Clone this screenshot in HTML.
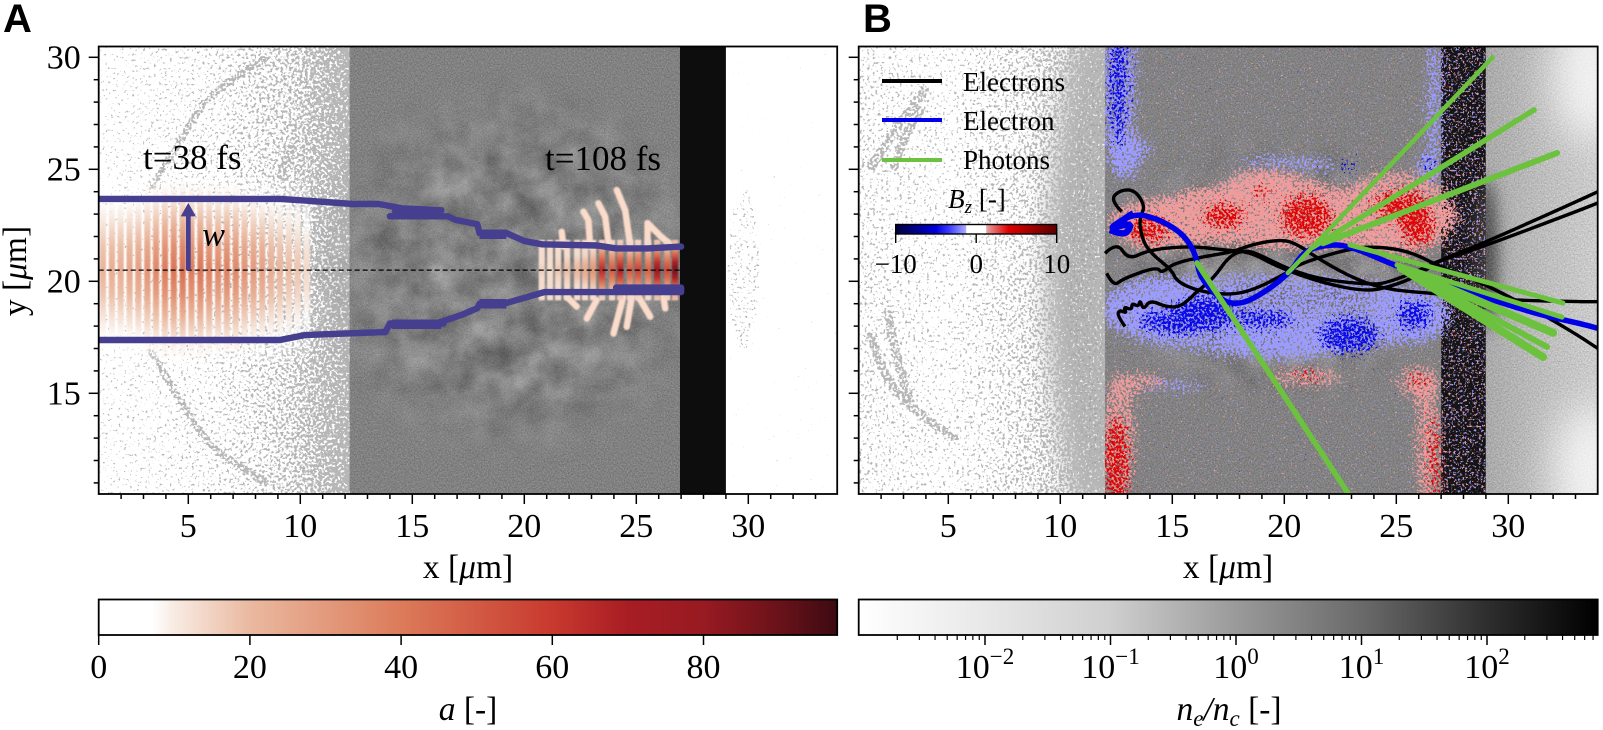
<!DOCTYPE html>
<html lang="en">
<head>
<meta charset="utf-8">
<title>Laser pulse and electron trajectories</title>
<style>
html,body{margin:0;padding:0;background:#fff;width:1603px;height:730px;overflow:hidden}
svg{display:block}
text{font-family:"Liberation Serif",serif;fill:#000}
.panel{font-family:"Liberation Sans",sans-serif;font-weight:bold;font-size:40px}
.tick{font-size:34px}
.title{font-size:33.5px}
.time{font-size:35px}
.sm{font-size:27px}
</style>
</head>
<body>
<svg id="fig" xmlns="http://www.w3.org/2000/svg" width="1603" height="730" viewBox="0 0 1603 730">
<defs id="defs">
  <clipPath id="clipA"><rect x="98.7" y="46.5" width="738.5" height="447.5"/></clipPath>
  <clipPath id="clipB"><rect x="858.7" y="46.5" width="739" height="447.5"/></clipPath>
  <filter id="mottle" filterUnits="userSpaceOnUse" x="0" y="0" width="1603" height="730" color-interpolation-filters="sRGB">
    <feTurbulence type="fractalNoise" baseFrequency="0.035" numOctaves="5" seed="8"/>
    <feColorMatrix type="matrix" values="0.9 0 0 0 0.06  0.9 0 0 0 0.06  0.9 0 0 0 0.06  0 0 0 0 1"/>
    <feComposite in2="SourceAlpha" operator="in"/>
  </filter>
  <filter id="grain" filterUnits="userSpaceOnUse" x="0" y="0" width="1603" height="730" color-interpolation-filters="sRGB">
    <feTurbulence type="fractalNoise" baseFrequency="0.7" numOctaves="2" seed="21"/>
    <feColorMatrix type="matrix" values="1.4 0 0 0 -0.2  1.4 0 0 0 -0.2  1.4 0 0 0 -0.2  0 0 0 0 1"/>
    <feComposite in2="SourceAlpha" operator="in"/>
  </filter>
  <filter id="soft8" x="-80%" y="-30%" width="260%" height="160%"><feGaussianBlur stdDeviation="8"/></filter>
  <filter id="soft14" x="-40%" y="-30%" width="180%" height="160%"><feGaussianBlur stdDeviation="13"/></filter>
  <filter id="soft24" x="-100%" y="-100%" width="300%" height="300%"><feGaussianBlur stdDeviation="20"/></filter>
  <filter id="soft1" x="-20%" y="-5%" width="140%" height="110%"><feGaussianBlur stdDeviation="0.9"/></filter>
  <linearGradient id="cbar-a" x1="0" x2="1" y1="0" y2="0"></linearGradient>
  <linearGradient id="cbar-ne" x1="0" x2="1" y1="0" y2="0"></linearGradient>
  <linearGradient id="cbar-bz" x1="0" x2="1" y1="0" y2="0"></linearGradient>
  <linearGradient id="densA" x1="0" x2="1" y1="0" y2="0">
    <stop offset="0" stop-color="#fff" stop-opacity="0.26"/>
    <stop offset="0.45" stop-color="#fff" stop-opacity="0.38"/>
    <stop offset="0.75" stop-color="#fff" stop-opacity="0.62"/>
    <stop offset="1" stop-color="#fff" stop-opacity="1"/>
  </linearGradient>
  <linearGradient id="densB" x1="0" x2="1" y1="0" y2="0">
    <stop offset="0" stop-color="#fff" stop-opacity="0.44"/>
    <stop offset="0.36" stop-color="#fff" stop-opacity="0.34"/>
    <stop offset="0.68" stop-color="#fff" stop-opacity="0.56"/>
    <stop offset="0.85" stop-color="#fff" stop-opacity="0.78"/>
    <stop offset="1" stop-color="#fff" stop-opacity="1"/>
  </linearGradient>
  <linearGradient id="rightB" x1="0" x2="1" y1="0" y2="0">
    <stop offset="0" stop-color="#b6b6b6"/>
    <stop offset="0.45" stop-color="#cccccc"/>
    <stop offset="1" stop-color="#e2e2e2"/>
  </linearGradient>
  <radialGradient id="mottleFade"><stop offset="0.55" stop-color="#fff" stop-opacity="1"/><stop offset="1" stop-color="#fff" stop-opacity="0"/></radialGradient>
</defs>
<g id="panelA" clip-path="url(#clipA)"></g>
<g id="panelB" clip-path="url(#clipB)"></g>
<g id="axes"></g>
<text class="panel" x="3" y="32">A</text>
<text class="panel" x="863" y="32">B</text>
<text class="time" x="143" y="169">t=38 fs</text>
<text class="time" x="545" y="170">t=108 fs</text>
<text class="title" transform="translate(26 271) rotate(-90)" text-anchor="middle">y [<tspan font-style="italic">μ</tspan>m]</text>
<text class="title" x="468" y="578" text-anchor="middle">x [<tspan font-style="italic">μ</tspan>m]</text>
<text class="title" x="1228" y="578" text-anchor="middle">x [<tspan font-style="italic">μ</tspan>m]</text>
<text class="title" x="468" y="720" text-anchor="middle"><tspan font-style="italic">a</tspan> [-]</text>
<text class="title" x="1229" y="720" text-anchor="middle"><tspan font-style="italic">n</tspan><tspan font-style="italic" font-size="23" dy="6">e</tspan><tspan dy="-6" font-style="italic">/n</tspan><tspan font-style="italic" font-size="23" dy="6">c</tspan><tspan dy="-6"> [-]</tspan></text>
<g id="legend">
  <line x1="882" x2="942" y1="81" y2="81" stroke="#000" stroke-width="4"/>
  <text class="sm" x="963" y="91">Electrons</text>
  <line x1="882" x2="942" y1="120" y2="120" stroke="#0000e6" stroke-width="4"/>
  <text class="sm" x="963" y="130">Electron</text>
  <line x1="882" x2="942" y1="160" y2="160" stroke="#6cc23e" stroke-width="4"/>
  <text class="sm" x="963" y="169">Photons</text>
</g>
<text class="sm" x="977" y="208" text-anchor="middle"><tspan font-style="italic">B</tspan><tspan font-style="italic" font-size="19" dy="5">z</tspan><tspan dy="-5"> [-]</tspan></text>
<script>
// ---------- axis tick data ----------
const xTicks = [5, 10, 15, 20, 25, 30];
const yTicks = [15, 20, 25, 30];
const aTicks = [0, 20, 40, 60, 80];
const neExponents = [-2, -1, 0, 1, 2];
const bzTicks = [-10, 0, 10];

// ---------- colormap stops (value, colour) ----------
const aStopValues = [0, 7, 10, 20, 40, 60, 70, 80, 90, 97.7];
const aStopColors = ['#ffffff', '#ffffff', '#f8ebe2', '#eab9a0', '#dc7b5a', '#c8392e', '#a81d24', '#981a22', '#6a1219', '#3d0a12'];
const neStopExps = [-3, -2, -1, 0, 1, 2, 2.88];
const neStopColors = ['#ffffff', '#e8e8e8', '#cfcfcf', '#9a9a9a', '#6a6a6a', '#2e2e2e', '#000000'];
const bzStopValues = [-10, -5, -3.4, -1.3, -1.2, 1.2, 1.3, 4, 7, 10];
const bzStopColors = ['#00003c', '#0000e0', '#3a3aff', '#aaaaff', '#ffffff', '#ffffff', '#e8a0a0', '#e00000', '#a00000', '#5a0000'];

// ---------- panel A: laser pulse at t=38 fs ----------
const pulse38X = [1.19, 1.59, 1.98, 2.38, 2.77, 3.17, 3.56, 3.96, 4.35, 4.75, 5.14, 5.54, 5.93, 6.33, 6.72, 7.12, 7.51, 7.91, 8.3, 8.7, 9.09, 9.49, 9.88, 10.28];
const pulse38Amp = [22, 24, 24, 26, 28, 32, 36, 40, 42, 44, 40, 42, 38, 36, 38, 36, 32, 30, 28, 24, 22, 20, 18, 14];
// ---------- panel A: laser pulse at t=108 fs ----------
const pulse108X = [20.78, 21.15, 21.51, 21.91, 22.36, 22.71, 23.07, 23.47, 23.92, 24.28, 24.72, 25.08, 25.53, 25.93, 26.38, 26.73];
const pulse108Amp = [16, 12, 18, 20, 22, 26, 32, 66, 50, 70, 50, 58, 48, 80, 56, 88];
const pulse108Tails = [
  [[21.75, 21.54], [21.67, 22.21]],
  [[22.94, 21.54], [22.86, 22.73], [22.64, 23.11]],
  [[23.76, 21.69], [23.61, 22.88], [23.31, 23.48]],
  [[24.72, 21.69], [24.5, 23.18], [24.13, 24.07]],
  [[25.5, 21.6], [25.5, 22.6], [26.1, 22.0], [26.7, 21.5]],
  [[21.9, 19.31], [22.34, 18.87]],
  [[23.23, 19.16], [22.79, 18.34]],
  [[24.42, 19.31], [23.98, 17.67]],
  [[24.8, 19.31], [24.57, 17.97]],
  [[25.1, 19.31], [25.62, 18.42]],
  [[26.21, 19.31], [26.29, 18.79]]
];
const beamUpperX = [1, 9.09, 10.3, 12.35, 13.5, 14.6, 14.7, 16.3, 15.8, 14.0, 16.6, 16.9, 17.9, 18, 19.2, 20.0, 20.8, 23.25, 24.1, 25.5, 27];
const beamUpperY = [23.68, 23.68, 23.6, 23.45, 23.45, 23.25, 23.25, 23.17, 23.17, 22.9, 22.9, 22.75, 22.55, 22.15, 22.15, 21.8, 21.65, 21.6, 21.47, 21.47, 21.55];
const beamLowerX = [1, 9.09, 10.2, 12.6, 13.8, 14.0, 16.4, 15.8, 14.1, 16.0, 17.2, 17.9, 18.0, 19.2, 20.9, 24.1, 27, 27, 24.1];
const beamLowerY = [17.38, 17.38, 17.6, 17.69, 17.73, 18.12, 18.12, 18.05, 18.05, 18.1, 18.5, 18.8, 19.0, 19.03, 19.52, 19.52, 19.52, 19.72, 19.72];
const beamBlockStartX = [14.1, 18.0, 24.2, 18.0, 14.1];
const beamBlockEndX = [16.3, 19.2, 26.9, 19.2, 16.3];
const beamBlockY = [18.08, 19.0, 19.6, 22.1, 23.02];

// ---------- panel B: trajectories (x, y in µm) ----------
const electronA = [[12.74, 23.11], [12.22, 23.63], [12.67, 24.08], [13.34, 24.08], [13.79, 23.33], [13.56, 22.89], [13.56, 22.29], [13.86, 21.4], [14.98, 20.51], [15.2, 19.98], [16.24, 19.54], [17.58, 19.39], [18.62, 19.61], [20.11, 20.36], [20.7, 20.8], [22.94, 21.47], [24.13, 21.55], [25.6, 21.34], [26.95, 20.65], [28.89, 19.91], [31.72, 18.42], [33.2, 17.53], [34, 17]];
const electronB = [[12.0, 21.25], [12.52, 21.77], [13.04, 20.95], [13.93, 21.4], [15.79, 21.58], [17.28, 21.4], [18.47, 21.32], [19.66, 20.65], [21.75, 19.91], [23.68, 19.54], [24.72, 19.76], [25.91, 20.21], [26.95, 20.95], [28.89, 21.7], [33.2, 23.63], [34, 24]];
const electronC = [[12.07, 20.36], [12.37, 19.76], [12.82, 20.13], [14.31, 20.65], [14.53, 20.36], [15.05, 20.8], [16.39, 21.1], [17.73, 21.32], [18.47, 21.62], [19.66, 21.85], [20.41, 21.77], [21.6, 20.95], [23.23, 20.06], [24.72, 19.61], [26.66, 19.46], [29.6, 19.17], [33.2, 19.09], [34, 19.09]];
const electronD = [[12.89, 17.98], [12.52, 18.5], [12.67, 18.72], [12.97, 18.57], [12.82, 18.87], [13.19, 18.72], [13.19, 19.02], [13.49, 18.87], [13.56, 19.17], [13.71, 18.72], [14.01, 19.17], [14.75, 18.84], [15.42, 18.87], [16.09, 19.54], [16.84, 20.13], [17.58, 21.18], [18.32, 21.4], [19.07, 21.1], [20.26, 20.51], [21.75, 20.06], [23.98, 19.84], [24.72, 19.98], [26.06, 20.5], [26.95, 20.95], [28.89, 21.55], [33.2, 23.18], [34, 23.5]];
const electronHighlight = [[12.22, 22.29], [12.6, 22.14], [12.97, 22.14], [13.19, 22.59], [12.52, 22.44], [12.22, 22.37], [13.26, 23.04], [14.31, 22.81], [15.35, 22.22], [15.87, 21.55], [16.09, 20.95], [16.24, 20.21], [16.91, 19.39], [17.65, 18.94], [18.62, 19.17], [20.26, 20.36], [20.85, 21.32], [21.75, 21.62], [22.86, 21.62], [25.02, 20.66], [27.55, 19.76], [31.12, 18.57], [33.2, 18.12], [34, 17.9]];
const photonStartX = [20.16, 21.28, 21.73, 22.93, 25.03, 25.2, 25.2, 25.2, 16.1];
const photonStartY = [20.37, 21.53, 21.7, 21.62, 20.73, 20.6, 20.6, 20.6, 20.82];
const photonEndX = [29.3, 31.15, 32.18, 32.44, 32.4, 32.0, 31.73, 31.55, 22.84];
const photonEndY = [30.0, 27.65, 25.73, 19.03, 18.4, 17.7, 17.07, 16.62, 10.55];
const photonWidths = [4.5, 5.5, 6, 5, 5, 8, 6, 8, 5.5];

// ---------- field texture regions (x, y, rx, ry in µm) ----------
const ringsA = [[[8.51, 30], [6.1, 28.54], [5.08, 27.07], [4.5, 26], [3.29, 24.07]], [[9.67, 26.17], [9.09, 24.52]], [[3.29, 16.94], [5.08, 13.94], [6.1, 12.47], [8.51, 11]]];
const ringsB = [[[1.5, 17.69], [2.08, 15.72], [3.6, 14.12], [5.39, 12.92]], [[2.26, 18.72], [2.53, 17.25], [3.29, 14.57]], [[1.5, 24.97], [2.4, 26.44], [4.05, 28.67]], [[2.53, 24.97], [2.98, 26.44], [3.87, 27.78]]];
const bowB = [[10.8, 30.6], [10.0, 26], [9.6, 22], [9.6, 18], [10.0, 14.5], [10.7, 10.4], [13, 10.4], [13, 30.6]];
const pinkBlobs = [[20, 22.8, 8, 1.5], [14.5, 22.5, 2.4, 1.3], [17, 23.2, 2.4, 1.2], [20, 23.2, 3, 1.7], [25, 23, 2.8, 2.1], [19, 24.3, 1.8, 0.9], [12.6, 13, 0.9, 3], [26.4, 12.5, 0.7, 3.2], [26, 15.5, 1.1, 0.9], [21, 15.7, 1.9, 0.5], [13.5, 15.5, 1.4, 0.5]];
const redBlobs = [[13.9, 22.3, 1.1, 0.7], [17.3, 22.9, 1.1, 0.7], [21, 22.9, 1.3, 1.1], [25.2, 23.4, 1.4, 0.8], [26, 22.3, 0.9, 0.9], [19, 24, 0.5, 0.4], [12.5, 11.8, 0.7, 2.4], [26.7, 12, 0.35, 2.4], [26, 15.5, 0.6, 0.4], [21, 15.8, 1.0, 0.28]];
const paleBlueBlobs = [[19.5, 18.5, 7.8, 2.0], [14.5, 19, 2.7, 1.4], [20, 17.5, 3, 1.1], [25.8, 18.5, 1.8, 1.4], [12.6, 29, 0.95, 4.5], [13, 25.5, 0.8, 1.1], [26.7, 28, 0.5, 4], [26.3, 25, 0.6, 0.8], [21.5, 25.2, 1.1, 0.4], [19.5, 25.3, 1.8, 0.4], [15, 15.4, 1.7, 0.35], [13.5, 26, 1, 0.4]];
const blueBlobs = [[22.9, 17.6, 1.5, 0.95], [25.8, 18.5, 0.9, 0.8], [15.5, 18.2, 2.2, 0.7], [16.5, 19, 1.4, 0.5], [22.9, 25.1, 0.6, 0.3], [12.6, 29, 0.5, 3.4], [26.5, 25.2, 0.35, 0.5], [19, 18.3, 1.7, 0.5]];
const rearGlowX = [33.6, 33.6];
const rearGlowY = [29.2, 11.5];

// ---------- scales ----------
const Y_TOP = 46.5, Y_BOTTOM = 494, PX_PER_UM = 22.4;
const xA = v => 98.7 + (v - 1) * PX_PER_UM;
const xB = v => 858.7 + (v - 1) * PX_PER_UM;
const yP = v => 57.3 + (30 - v) * PX_PER_UM;
const cbA = v => 98.7 + v * 7.56;
const cbNe = e => 1236 + e * 125.5;
const cbBz = v => 976.2 + v * 8.05;

const NS = 'http://www.w3.org/2000/svg';
function mk(parent, tag, attrs, txt) {
  const el = document.createElementNS(NS, tag);
  for (const k in attrs) el.setAttribute(k, attrs[k]);
  if (txt !== undefined) el.textContent = txt;
  parent.appendChild(el);
  return el;
}
function smoothPath(pts, sx) {
  let d = 'M' + sx(pts[0][0]).toFixed(1) + ' ' + yP(pts[0][1]).toFixed(1);
  for (let i = 1; i < pts.length - 1; i++) {
    const x = sx(pts[i][0]), y = yP(pts[i][1]), nx = sx(pts[i + 1][0]), ny = yP(pts[i + 1][1]);
    d += ' Q' + x.toFixed(1) + ' ' + y.toFixed(1) + ' ' + ((x + nx) / 2).toFixed(1) + ' ' + ((y + ny) / 2).toFixed(1);
  }
  const l = pts[pts.length - 1];
  return d + ' L' + sx(l[0]).toFixed(1) + ' ' + yP(l[1]).toFixed(1);
}
function polyPath(pts, sx) {
  return pts.map((p, i) => (i ? 'L' : 'M') + sx(p[0]).toFixed(1) + ' ' + yP(p[1]).toFixed(1)).join(' ');
}
function hexRgb(h) { return [1, 3, 5].map(i => parseInt(h.substr(i, 2), 16)); }
function aColor(v) {
  if (v <= aStopValues[0]) return aStopColors[0];
  for (let i = 1; i < aStopValues.length; i++) {
    if (v <= aStopValues[i]) {
      const t = (v - aStopValues[i - 1]) / (aStopValues[i] - aStopValues[i - 1]);
      const a = hexRgb(aStopColors[i - 1]), b = hexRgb(aStopColors[i]);
      return 'rgb(' + a.map((c, j) => Math.round(c + (b[j] - c) * t)).join(',') + ')';
    }
  }
  return aStopColors[aStopColors.length - 1];
}
const defs = document.getElementById('defs');
const panelA = document.getElementById('panelA');
const panelB = document.getElementById('panelB');
const axes = document.getElementById('axes');

// ---------- colorbar gradients ----------
aStopValues.forEach((v, i) => mk(document.getElementById('cbar-a'), 'stop', { offset: v / 97.7, 'stop-color': aStopColors[i] }));
neStopExps.forEach((v, i) => mk(document.getElementById('cbar-ne'), 'stop', { offset: (v + 3) / 5.88, 'stop-color': neStopColors[i] }));
bzStopValues.forEach((v, i) => mk(document.getElementById('cbar-bz'), 'stop', { offset: (v + 10) / 20, 'stop-color': bzStopColors[i] }));

// ---------- stipple filters: speckle density follows the source alpha ----------
function stipple(id, color, blur, seed, freq) {
  const f = mk(defs, 'filter', { id: id, filterUnits: 'userSpaceOnUse', x: 0, y: 0, width: 1603, height: 730, 'color-interpolation-filters': 'sRGB' });
  mk(f, 'feGaussianBlur', { in: 'SourceAlpha', stdDeviation: blur, result: 'd' });
  mk(f, 'feTurbulence', { type: 'fractalNoise', baseFrequency: freq, numOctaves: 2, seed: seed, result: 't' });
  mk(f, 'feColorMatrix', { in: 't', type: 'matrix', values: '0 0 0 0 0 0 0 0 0 0 0 0 0 0 0 1 0 0 0 0', result: 'na' });
  mk(f, 'feComposite', { in: 'd', in2: 'na', operator: 'arithmetic', k1: 0, k2: 0.5, k3: 1, k4: 0, result: 'sum' });
  const ct = mk(f, 'feComponentTransfer', { in: 'sum', result: 'thr' });
  mk(ct, 'feFuncA', { type: 'linear', slope: 10, intercept: -8.0 });
  mk(f, 'feFlood', { 'flood-color': color, result: 'fl' });
  mk(f, 'feComposite', { in: 'fl', in2: 'thr', operator: 'in' });
}
stipple('st-grey', '#b6b6b6', 0.6, 5, 0.37);
stipple('st-grey2', '#b6b6b6', 0.6, 13, 0.37);
stipple('st-white', '#eeeeee', 0.6, 19, 0.41);
stipple('st-pink', '#ee9c9c', 7, 31, 0.41);
stipple('st-red', '#dc0606', 7, 37, 0.41);
stipple('st-pale', '#9c9cff', 7, 41, 0.41);
stipple('st-blue', '#0a0ae6', 7, 43, 0.41);
stipple('st-pink2', '#ee9c9c', 0.1, 47, 0.43);
stipple('st-pale2', '#9c9cff', 0.1, 53, 0.43);

// ---------- panel A field ----------
const rH = Y_BOTTOM - Y_TOP;
const stA = mk(panelA, 'g', { filter: 'url(#st-grey)' });


mk(stA, 'rect', { x: xA(1), y: Y_TOP, width: xA(12.3) - xA(1), height: rH, fill: 'url(#densA)' });
ringsA.forEach(r => mk(stA, 'path', { d: smoothPath(r, xA), fill: 'none', stroke: '#fff', 'stroke-width': 7, 'stroke-opacity': 0.62 }));
mk(stA, 'ellipse', { cx: xA(29.8), cy: yP(20.5), rx: 0.7 * PX_PER_UM, ry: 3.6 * PX_PER_UM, fill: '#fff', 'fill-opacity': 0.35 });

const grayA = mk(panelA, 'rect', { x: xA(12.2), y: Y_TOP, width: xA(27) - xA(12.2), height: rH, fill: '#828282' });


const grA = mk(panelA, 'rect', { x: xA(12.2), y: Y_TOP, width: xA(27) - xA(12.2), height: rH, filter: 'url(#grain)', opacity: 0.2 });


const moA = mk(panelA, 'ellipse', { cx: xA(19.5), cy: yP(20.5), rx: 9.4 * PX_PER_UM, ry: 9 * PX_PER_UM, fill: 'url(#mottleFade)', filter: 'url(#mottle)', opacity: 0.38 });


const blA = mk(panelA, 'rect', { x: xA(26.95), y: Y_TOP, width: xA(29) - xA(26.95), height: rH, fill: '#0d0d0d' });



// ---------- laser stripes ----------
function stripes(xs, amps, halfUm, profile, floor, name) {
  const g = mk(panelA, 'g', { filter: 'url(#soft1)' });
  
  
  xs.forEach((x, i) => {
    const id = name + '-g' + i;
    const gr = mk(defs, 'linearGradient', { id: id, x1: 0, x2: 0, y1: 0, y2: 1 });
    profile.forEach((f, j) => {
      const v = Math.max(amps[i] * f, floor);
      mk(gr, 'stop', { offset: j / (profile.length - 1), 'stop-color': aColor(v), 'stop-opacity': Math.min(1, v / 9).toFixed(2) });
    });
    const s = mk(g, 'rect', { x: xA(x) - 3.1, y: yP(20.5 + halfUm), width: 6.2, height: 2 * halfUm * PX_PER_UM, fill: 'url(#' + id + ')' });
    
    
  });
}
stripes(pulse38X, pulse38Amp, 4.2, [0, 0.26, 0.5, 0.8, 1, 0.8, 0.5, 0.26, 0], 0, 'laser-pulse-38fs');
const tails = mk(panelA, 'g', { filter: 'url(#soft1)' });


pulse108Tails.forEach(t => {
  const p = mk(tails, 'path', { d: polyPath(t, xA), fill: 'none', stroke: '#fbdccb', 'stroke-width': 6.5, 'stroke-linecap': 'round', 'stroke-linejoin': 'round' });
  
  
});
stripes(pulse108X, pulse108Amp, 1.35, [0.2, 0.3, 0.55, 0.8, 1, 0.8, 0.55, 0.3, 0.2], 13, 'laser-pulse-108fs');

// ---------- beam envelope ----------
const toPts = (xs, ys) => xs.map((x, i) => [x, ys[i]]);
const bu = mk(panelA, 'path', { d: polyPath(toPts(beamUpperX, beamUpperY), xA), fill: 'none', stroke: '#463f8f', 'stroke-width': 6.4, 'stroke-linejoin': 'round', 'stroke-linecap': 'round' });


const bl = mk(panelA, 'path', { d: polyPath(toPts(beamLowerX, beamLowerY), xA), fill: 'none', stroke: '#463f8f', 'stroke-width': 6.4, 'stroke-linejoin': 'round', 'stroke-linecap': 'round' });


beamBlockStartX.forEach((x, i) => {
  const b = mk(panelA, 'line', { x1: xA(x), x2: xA(beamBlockEndX[i]), y1: yP(beamBlockY[i]), y2: yP(beamBlockY[i]), stroke: '#463f8f', 'stroke-width': 9.5 });
  
  
});
const axisLine = mk(panelA, 'line', { x1: xA(1), x2: xA(27), y1: yP(20.5), y2: yP(20.5), stroke: '#000', 'stroke-width': 1.3, 'stroke-dasharray': '5 3' });


const arrow = mk(panelA, 'path', { d: 'M' + (xA(5) - 2.4) + ' ' + yP(20.5) + ' V' + yP(22.9) + ' H' + (xA(5) - 7.6) + ' L' + xA(5) + ' ' + yP(23.5) + ' L' + (xA(5) + 7.6) + ' ' + yP(22.9) + ' H' + (xA(5) + 2.4) + ' V' + yP(20.5) + ' Z', fill: '#463f8f' });


const wLabel = mk(panelA, 'text', { x: xA(5) + 14, y: yP(21.6), 'font-style': 'italic', 'font-size': 34 }, 'w');



// ---------- panel B field ----------
const bow = mk(panelB, 'path', { d: polyPath(bowB, xB) + ' Z', fill: '#a4a4a4', filter: 'url(#soft14)' });


const stB = mk(panelB, 'g', { filter: 'url(#st-grey2)' });


mk(stB, 'rect', { x: xB(1), y: Y_TOP, width: xB(12) - xB(1), height: rH, fill: 'url(#densB)' });
ringsB.forEach(r => mk(stB, 'path', { d: smoothPath(r, xB), fill: 'none', stroke: '#fff', 'stroke-width': 9, 'stroke-opacity': 0.62 }));
const wsB = mk(panelB, 'g', { filter: 'url(#st-white)' });


mk(wsB, 'rect', { x: xB(9.4), y: Y_TOP, width: xB(12) - xB(9.4), height: rH, fill: '#fff', 'fill-opacity': 0.36 });
const grayB = mk(panelB, 'rect', { x: xB(12), y: Y_TOP, width: xB(27) - xB(12), height: rH, fill: '#828282' });


const moB = mk(panelB, 'ellipse', { cx: xB(19.5), cy: yP(20.5), rx: 8 * PX_PER_UM, ry: 6.4 * PX_PER_UM, fill: 'url(#mottleFade)', filter: 'url(#mottle)', opacity: 0.45 });


const blB = mk(panelB, 'rect', { x: xB(27), y: Y_TOP, width: xB(29) - xB(27), height: rH, fill: '#141414' });


const rtB = mk(panelB, 'rect', { x: xB(29), y: Y_TOP, width: xB(34) - xB(29), height: rH, fill: 'url(#rightB)' });


const rtDark = mk(panelB, 'ellipse', { cx: xB(29), cy: yP(21.2), rx: 0.5 * PX_PER_UM, ry: 3.4 * PX_PER_UM, fill: '#3a3a3a', filter: 'url(#soft8)' });


const rtGrain = mk(panelB, 'rect', { x: xB(29), y: Y_TOP, width: xB(34) - xB(29), height: rH, filter: 'url(#grain)', opacity: 0.22 });


rearGlowX.forEach((x, i) => {
  const g = mk(panelB, 'ellipse', { cx: xB(x), cy: yP(rearGlowY[i]), rx: 1.6 * PX_PER_UM, ry: 3 * PX_PER_UM, fill: '#fff', 'fill-opacity': 0.75, filter: 'url(#soft24)' });
  
  
});
const grB = mk(panelB, 'rect', { x: xB(12), y: Y_TOP, width: xB(27) - xB(12), height: rH, filter: 'url(#grain)', opacity: 0.2 });



// ---------- Bz speckle overlays ----------
mk(defs, 'clipPath', { id: 'clipBz' }).appendChild(mk(defs, 'rect', { x: xB(12), y: Y_TOP, width: xB(29) - xB(12) + 1, height: rH }));
function bzLayer(filterId, list, op, name) {
  const wrap = mk(panelB, 'g', { 'clip-path': 'url(#clipBz)' });
  
  
  const g = mk(wrap, 'g', { filter: 'url(#' + filterId + ')' });
  list.forEach(b => mk(g, 'ellipse', { cx: xB(b[0]), cy: yP(b[1]), rx: b[2] * PX_PER_UM, ry: b[3] * PX_PER_UM, fill: '#fff', 'fill-opacity': op }));
}
const sparse = mk(panelB, 'g', { 'clip-path': 'url(#clipBz)' });


const sp1 = mk(sparse, 'g', { filter: 'url(#st-pink2)' });
mk(sp1, 'rect', { x: xB(12), y: Y_TOP, width: xB(27) - xB(12), height: rH, fill: '#fff', 'fill-opacity': 0.2 });
mk(sp1, 'rect', { x: xB(27), y: Y_TOP, width: xB(29) - xB(27), height: rH, fill: '#fff', 'fill-opacity': 0.38 });
const sp2 = mk(sparse, 'g', { filter: 'url(#st-pale2)' });
mk(sp2, 'rect', { x: xB(12), y: Y_TOP, width: xB(27) - xB(12), height: rH, fill: '#fff', 'fill-opacity': 0.18 });
mk(sp2, 'rect', { x: xB(27), y: Y_TOP, width: xB(29) - xB(27), height: rH, fill: '#fff', 'fill-opacity': 0.38 });
bzLayer('st-pale', paleBlueBlobs, 0.78, 'bz-negative-speckle');
bzLayer('st-pink', pinkBlobs, 0.78, 'bz-positive-speckle');
bzLayer('st-blue', blueBlobs, 0.8, 'bz-negative-strong');
bzLayer('st-red', redBlobs, 0.8, 'bz-positive-strong');

// ---------- trajectories ----------
[electronA, electronB, electronC, electronD].forEach(tr => {
  const p = mk(panelB, 'path', { d: smoothPath(tr, xB), fill: 'none', stroke: '#000', 'stroke-width': 3.4, 'stroke-linejoin': 'round' });
  
  
});
const hi = mk(panelB, 'path', { d: smoothPath(electronHighlight, xB), fill: 'none', stroke: '#0000e6', 'stroke-width': 5.5, 'stroke-linejoin': 'round' });


const hiStart = mk(panelB, 'path', { d: smoothPath(electronHighlight.slice(0, 7), xB), fill: 'none', stroke: '#0000e6', 'stroke-width': 6.5, 'stroke-linejoin': 'round' });


photonStartX.forEach((x, i) => {
  const p = mk(panelB, 'line', { x1: xB(x), y1: yP(photonStartY[i]), x2: xB(photonEndX[i]), y2: yP(photonEndY[i]), stroke: '#6cc23e', 'stroke-width': photonWidths[i], 'stroke-linecap': 'round' });
  
  
});

// ---------- axes ----------
function axisFrame(sx, left, right, withLabels, name) {
  const g = mk(axes, 'g', {});
  
  
  mk(g, 'rect', { x: left, y: Y_TOP, width: right - left, height: rH, fill: 'none', stroke: '#000', 'stroke-width': 1.8 });
  for (let v = 2; v <= 33; v++) {
    const major = xTicks.includes(v);
    const t = mk(g, 'line', { x1: sx(v), x2: sx(v), y1: Y_BOTTOM, y2: Y_BOTTOM + (major ? 10 : 5), stroke: '#000', 'stroke-width': 1.5 });
    
    
  }
  for (let v = 11; v <= 30; v++) {
    const major = yTicks.includes(v);
    const t = mk(g, 'line', { x1: left, x2: left - (major ? 10 : 5), y1: yP(v), y2: yP(v), stroke: '#000', 'stroke-width': 1.5 });
    
    
  }
  xTicks.forEach(v => {
    const t = mk(g, 'text', { class: 'tick', x: sx(v), y: 537, 'text-anchor': 'middle' }, v);
    
    
  });
  if (withLabels) yTicks.forEach(v => {
    const t = mk(g, 'text', { class: 'tick', x: left - 18, y: yP(v) + 11, 'text-anchor': 'end' }, v);
    
    
  });
}
axisFrame(xA, 98.7, 837.2, true, 'panel-a-axes');
axisFrame(xB, 858.7, 1597.7, false, 'panel-b-axes');

// ---------- colorbar a ----------
const cbGa = mk(axes, 'g', {});


mk(cbGa, 'rect', { x: 98.7, y: 599.5, width: 738.5, height: 35.5, fill: 'url(#cbar-a)', stroke: '#000', 'stroke-width': 1.8 });
aTicks.forEach(v => {
  const t = mk(cbGa, 'line', { x1: cbA(v), x2: cbA(v), y1: 635, y2: 645, stroke: '#000', 'stroke-width': 1.5 });
  
  
  const l = mk(cbGa, 'text', { class: 'tick', x: cbA(v), y: 678, 'text-anchor': 'middle' }, v);
  
  
});

// ---------- colorbar density ----------
const cbGn = mk(axes, 'g', {});


mk(cbGn, 'rect', { x: 858.7, y: 599.5, width: 739, height: 35.5, fill: 'url(#cbar-ne)', stroke: '#000', 'stroke-width': 1.8 });
for (let e = -3; e <= 2; e++) {
  for (let m = 2; m <= 9; m++) {
    const p = cbNe(e + Math.log10(m));
    if (p < 1597.7) {
      const t = mk(cbGn, 'line', { x1: p, x2: p, y1: 635, y2: 640, stroke: '#000', 'stroke-width': 1.2 });
      
      
    }
  }
}
neExponents.forEach(e => {
  const t = mk(cbGn, 'line', { x1: cbNe(e), x2: cbNe(e), y1: 635, y2: 645, stroke: '#000', 'stroke-width': 1.5 });
  
  
  const l = mk(cbGn, 'text', { class: 'tick', x: cbNe(e), y: 678, 'text-anchor': 'middle' });
  
  
  mk(l, 'tspan', {}, '10');
  mk(l, 'tspan', { dy: -14, 'font-size': 23 }, e < 0 ? '\u2212' + (-e) : String(e));
});

// ---------- Bz inset colorbar ----------
const cbGz = mk(axes, 'g', {});


mk(cbGz, 'rect', { x: 895.7, y: 224.5, width: 161, height: 9.5, fill: 'url(#cbar-bz)', stroke: '#000', 'stroke-width': 1.4 });
bzTicks.forEach(v => {
  const t = mk(cbGz, 'line', { x1: cbBz(v), x2: cbBz(v), y1: 234, y2: 243, stroke: '#000', 'stroke-width': 1.4 });
  
  
  const l = mk(cbGz, 'text', { class: 'sm', x: cbBz(v), y: 273, 'text-anchor': 'middle' }, v < 0 ? '\u2212' + (-v) : v);
  
  
});
</script>
</svg>
</body>
</html>
